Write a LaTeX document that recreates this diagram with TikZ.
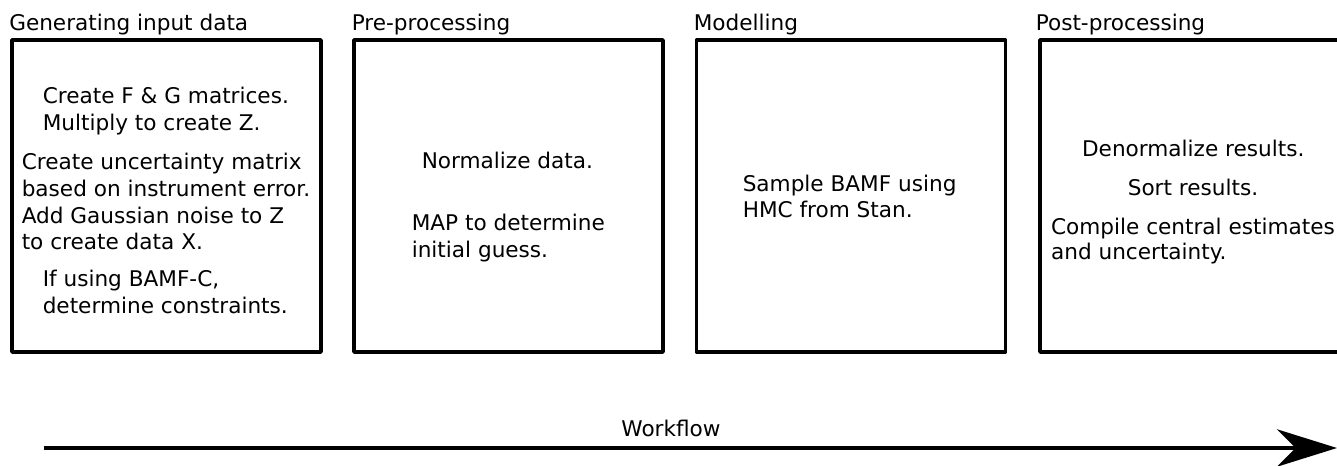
\documentclass[tikz,border=0pt]{standalone}
\usepackage{fontspec}
\setmainfont{DejaVu Sans}
\usetikzlibrary{arrows.meta}
\begin{document}
\begin{tikzpicture}[x=0.75pt,y=-0.75pt,
  box/.style={draw, line width=2.8pt, line join=round, minimum width=231.75pt, minimum height=234pt, inner sep=0pt},
  txt/.style={anchor=base west, inner sep=0pt, font=\fontsize{16.2}{20}\selectfont},
  flowline/.style={line width=3.2pt, -{Stealth[length=45pt,width=28pt,inset=14pt]}}
  ]
\useasboundingbox[fill=white] (0,0) rectangle (1337,466);

% boxes
\node[box] (b1) at (166.5,196) {};
\node[box] (b2) at (508.5,196) {};
\node[box] (b3) at (851,196) {};
\node[box] (b4) at (1194.5,196) {};

% titles
\node[txt] (t1) at (9,31) {Generating input data};
\node[txt] (t2) at (351.5,31) {Pre-processing};
\node[txt] (t3) at (693.5,31) {Modelling};
\node[txt] (t4) at (1035.5,31) {Post-processing};

% box 1
\node[txt] (a1) at (42.5,104) {Create F \& G matrices.};
\node[txt] (a2) at (42.5,130.5) {Multiply to create Z.};
\node[txt] (a3) at (21.5,170) {Create uncertainty matrix};
\node[txt] (a4) at (21.5,196.7) {based on instrument error.};
\node[txt] (a5) at (21.5,223.3) {Add Gaussian noise to Z};
\node[txt] (a6) at (21.5,250) {to create data X.};
\node[txt] (a7) at (42.5,287) {If using BAMF-C,};
\node[txt] (a8) at (42.5,314) {determine constraints.};

% box 2
\node[txt] (p1) at (421.5,168.3) {Normalize data.};
\node[txt] (p2) at (411.5,230.7) {MAP to determine};
\node[txt] (p3) at (411.5,257.3) {initial guess.};

% box 3
\node[txt] (m1) at (742.5,191.7) {Sample BAMF using};
\node[txt] (m2) at (742.5,217.7) {HMC from Stan.};

% box 4
\node[txt] (q1) at (1081.8,156.7) {Denormalize results.};
\node[txt] (q2) at (1127.5,195.7) {Sort results.};
\node[txt] (q3) at (1050.8,235) {Compile central estimates};
\node[txt] (q4) at (1050.8,260) {and uncertainty.};

% workflow arrow
\coordinate (wfs) at (44,448);
\coordinate (wfe) at (1337,448);
\draw[flowline] (wfs) -- (wfe);
\node[txt, anchor=base] (wf) at (671,436.7) {Workflow};
\end{tikzpicture}
\end{document}
